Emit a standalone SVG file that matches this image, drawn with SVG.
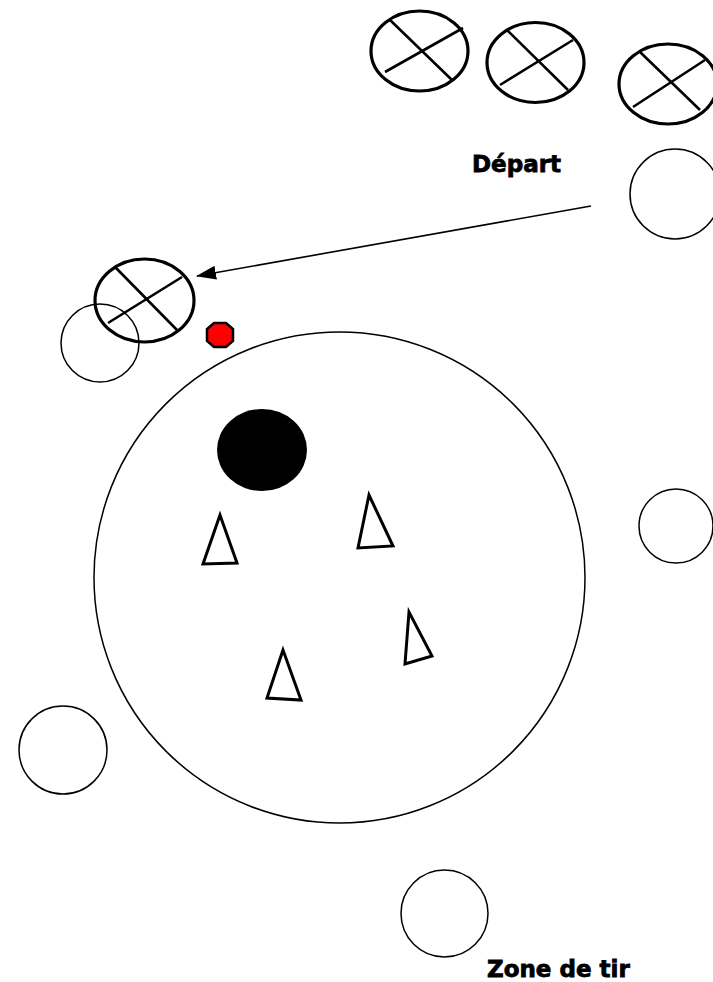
<svg xmlns="http://www.w3.org/2000/svg" width="713" height="982" viewBox="0 0 713 982">
<style>
.thick{fill:none;stroke:#000;stroke-width:3.2}
.cross{fill:none;stroke:#000;stroke-width:2.6}
.thin{fill:none;stroke:#000;stroke-width:1.5}
.tri{fill:#fff;stroke:#000;stroke-width:3}
.lbl{font-family:"DejaVu Sans",sans-serif;font-weight:bold;font-size:23px;fill:#000;stroke:#000;stroke-width:0.8}
</style>
<defs>
<marker id="ah" markerWidth="20" markerHeight="14" refX="19" refY="7" orient="auto" markerUnits="userSpaceOnUse">
<path d="M0,0 L20,7 L0,14 Z" fill="#000"/>
</marker>
</defs>
<rect width="713" height="982" fill="#fff"/>
<g id="field">
<circle cx="339.5" cy="577.5" r="245.5" class="thin"/>
</g>
<g id="cross1">
<ellipse cx="419.5" cy="51" rx="48.5" ry="40" class="thick"/>
<line x1="390" y1="20" x2="452" y2="80" class="cross"/>
<line x1="385" y1="72" x2="463" y2="28" class="cross"/>
</g>
<g id="cross2">
<ellipse cx="535.5" cy="62.5" rx="48.5" ry="40" class="thick"/>
<line x1="507" y1="30" x2="568" y2="90" class="cross"/>
<line x1="500" y1="85" x2="573" y2="40" class="cross"/>
</g>
<g id="cross3">
<ellipse cx="668" cy="84" rx="49" ry="40" class="thick"/>
<line x1="640" y1="52" x2="700" y2="110" class="cross"/>
<line x1="633" y1="107" x2="705" y2="60" class="cross"/>
</g>
<g id="circle-depart">
<circle cx="675" cy="194" r="45" class="thin"/>
</g>
<g id="label-depart">
<text x="472" y="172" class="lbl">Départ</text>
</g>
<g id="circle-left-top">
<circle cx="100" cy="343" r="39" class="thin"/>
</g>
<g id="cross4">
<ellipse cx="144.5" cy="300.5" rx="49.5" ry="41.5" class="thick"/>
<line x1="116" y1="268" x2="177" y2="330" class="cross"/>
<line x1="108" y1="323" x2="182" y2="277" class="cross"/>
</g>
<g id="red-dot">
<polygon points="214,323 226,323 233,329 233,341 226,347 214,347 207,341 207,329" fill="#f00" stroke="#000" stroke-width="2.5"/>
</g>
<g id="ball">
<ellipse cx="262" cy="450" rx="45" ry="41" fill="#000"/>
</g>
<g id="cone1"><polygon points="220,515 203,564 237,563" class="tri"/></g>
<g id="cone2"><polygon points="369,495 358,548 393,546" class="tri"/></g>
<g id="cone3"><polygon points="409,612 405,664 432,656" class="tri"/></g>
<g id="cone4"><polygon points="283,650 267,698 301,700" class="tri"/></g>
<g id="circle-right">
<circle cx="676" cy="526" r="37" class="thin"/>
</g>
<g id="circle-left-bottom">
<circle cx="63" cy="750" r="44" class="thin"/>
</g>
<g id="circle-bottom">
<circle cx="444.5" cy="913.5" r="43.5" class="thin"/>
</g>
<g id="label-zone">
<text x="487" y="977" class="lbl">Zone de tir</text>
</g>
<g id="connectors">
<line x1="591" y1="206" x2="197" y2="276" stroke="#000" stroke-width="1.6" marker-end="url(#ah)"/>
</g>
</svg>
